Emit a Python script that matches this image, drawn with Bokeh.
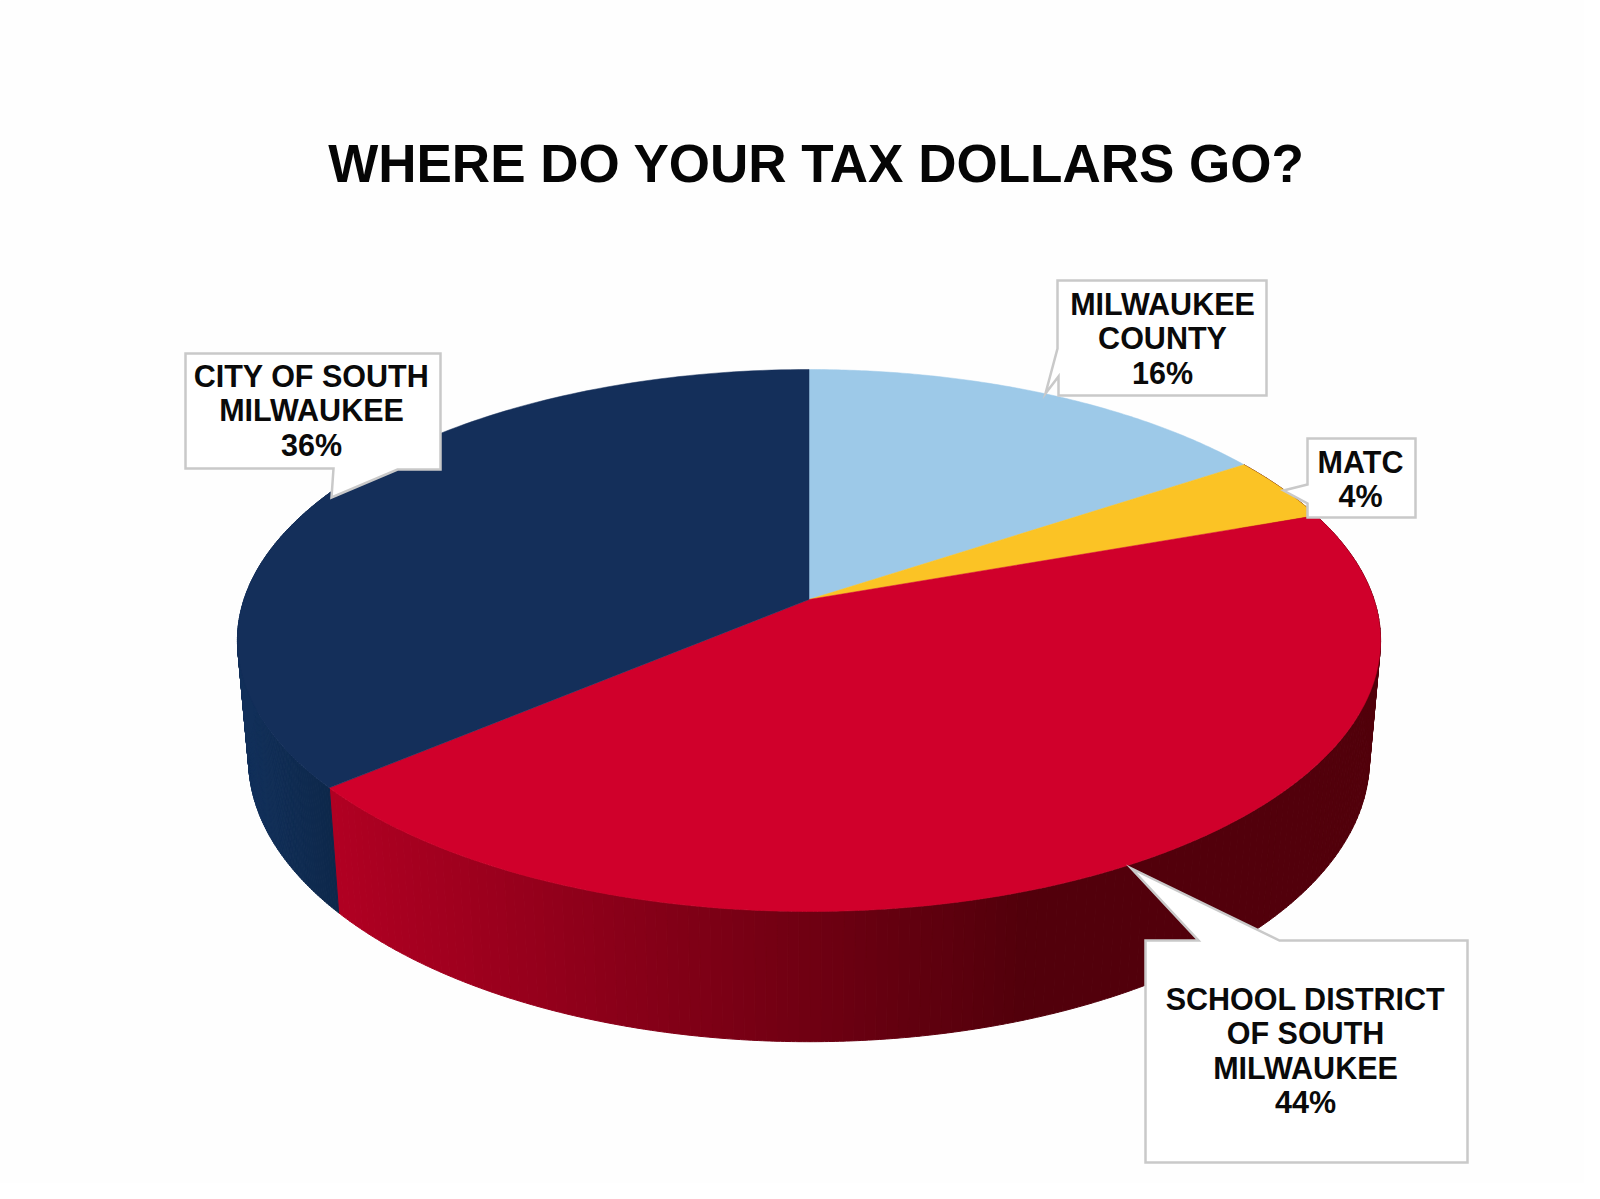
import numpy as np
from bokeh.plotting import figure
from bokeh.embed import file_html
from bokeh.resources import INLINE
from bokeh.core.properties import value

# ---- data ----
title = "WHERE DO YOUR TAX DOLLARS GO?"
categories = ["MILWAUKEE COUNTY", "MATC", "SCHOOL DISTRICT OF SOUTH MILWAUKEE", "CITY OF SOUTH MILWAUKEE"]
shares = [15.7, 3.9, 44.3, 36.1]
colors = ["#9DC9E8", "#FBC325", "#D0002B", "#142F5A"]
label_lines = [["MILWAUKEE", "COUNTY", "16%"],
               ["MATC", "4%"],
               ["SCHOOL DISTRICT", "OF SOUTH", "MILWAUKEE", "44%"],
               ["CITY OF SOUTH", "MILWAUKEE", "36%"]]

# ---- layout / perspective ----
CX, APEX, W, H, A = 808.5, 599, 565, 264.8, 0.1513
W_B, APEX_B, H_B = 554, 716, 276
FONT = "Liberation Sans"
BOX = "#C9C9C9"


def top_xy(t):
    u, v = np.sin(t), np.cos(t)
    d = 1 + A * v
    return CX + W * u / d, APEX - H * v / d


def base_xy(t):
    u, v = np.sin(t), np.cos(t)
    d = 1 + A * v
    return CX + W_B * u / d, APEX_B - H_B * v / d


def lerp_hex(c0, c1, f):
    a = [int(c0[i:i + 2], 16) for i in (1, 3, 5)]
    b = [int(c1[i:i + 2], 16) for i in (1, 3, 5)]
    return "#%02x%02x%02x" % tuple(int(round(p + (q - p) * f)) for p, q in zip(a, b))


edges = np.cumsum([0] + shares) / sum(shares) * 2 * np.pi

p = figure(width=1584, height=1183, x_range=(0, 1584), y_range=(1183, 0),
           output_backend="svg", toolbar_location=None, min_border=0,
           background_fill_color="#FEFEFE", border_fill_color="#FEFEFE", outline_line_color=None)
p.axis.visible = False
p.grid.visible = False

# side wall, drawn as narrow strips so that it can be shaded
sx, sy, sc = [], [], []
for start, stop, kind in [(edges[1], edges[3], "red"), (edges[3], edges[3] + 1.3, "navy")]:
    ts = np.linspace(start, stop, 181)
    for t0, t1 in zip(ts[:-1], ts[1:]):
        tt = np.linspace(t0, t1, 4)
        xa, ya = top_xy(tt)
        xb, yb = base_xy(tt[::-1])
        xm = float(np.mean(xa))
        if kind == "red":
            f = np.clip((xm - 335) / (1025 - 335), 0, 1)
            c = lerp_hex("#B00022", "#52000B", f)
        else:
            f = np.clip((xm - 245) / (340 - 245), 0, 1)
            c = lerp_hex("#12305A", "#0C2648", f)
        sx.append(np.r_[xa, xb])
        sy.append(np.r_[ya, yb])
        sc.append(c)
p.patches(sx, sy, fill_color=sc, line_color=sc, line_width=1)

# top face
fx, fy = [], []
for s0, s1 in zip(edges[:-1], edges[1:]):
    tt = np.linspace(s0, s1, 120)
    xa, ya = top_xy(tt)
    fx.append(np.r_[CX, xa])
    fy.append(np.r_[APEX, ya])
p.patches(fx, fy, fill_color=colors, line_color=colors, line_width=0.5)

# callouts
callout_x = [[1057, 1266, 1266, 1058, 1058, 1045, 1057],
             [1307, 1415, 1415, 1307, 1307, 1283, 1307],
             [1145, 1198, 1131, 1279, 1467, 1467, 1145],
             [185, 440, 440, 397, 331, 333, 185]]
callout_y = [[280, 280, 395, 395, 376, 393, 348],
             [438, 438, 517, 517, 503, 490, 484],
             [940, 940, 868, 940, 940, 1162, 1162],
             [353, 353, 469, 469, 497, 468, 468]]
p.patches(callout_x, callout_y, fill_color="#FFFFFF", line_color=BOX, line_width=2.5, line_join="miter")

text_cx = [1162, 1360, 1305, 311]
text_y0 = [303, 461, 998, 375]
STEP = 34.6
tx, ty, tt_ = [], [], []
for lines, cx, y0 in zip(label_lines, text_cx, text_y0):
    for i, line in enumerate(lines):
        tx.append(cx)
        ty.append(y0 + i * STEP)
        tt_.append(line)
p.text(tx, ty, text=tt_, text_font=value(FONT), text_font_style="bold", text_font_size="30.5px",
       text_color="#0A0A0A", text_align="center", text_baseline="middle")

p.text([816], [163], text=[title], text_font=value(FONT), text_font_style="bold", text_font_size="53px",
       text_color="#050505", text_align="center", text_baseline="middle")

open("out.html", "w").write(file_html(p, INLINE))
